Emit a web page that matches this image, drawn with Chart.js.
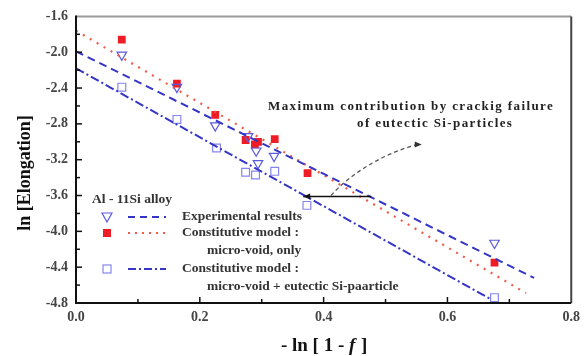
<!DOCTYPE html>
<html>
<head>
<meta charset="utf-8">
<script src="https://cdn.jsdelivr.net/npm/chart.js@4.4.1/dist/chart.umd.min.js"></script>
<style>
  html, body { margin: 0; padding: 0; background: #fff; }
  #wrap { width: 586px; height: 356px; }
</style>
</head>
<body>
<div id="wrap"><canvas id="grafica" width="586" height="356"></canvas></div>
<script>
// Datos
const expX = [0.074, 0.163, 0.225, 0.278, 0.291, 0.294, 0.320, 0.676];
const expY = [-2.03, -2.39, -2.82, -2.94, -3.10, -3.24, -3.16, -4.13];

const voidX = [0.074, 0.163, 0.225, 0.274, 0.289, 0.294, 0.321, 0.374, 0.676];
const voidY = [-1.86, -2.35, -2.70, -2.98, -3.03, -3.00, -2.97, -3.35, -4.35];

const siX = [0.074, 0.163, 0.227, 0.274, 0.290, 0.321, 0.373, 0.676];
const siY = [-2.39, -2.75, -3.07, -3.34, -3.37, -3.33, -3.71, -4.74];

// Rectas ajustadas (extremos)
const expFitX = [0.0, 0.74];
const expFitY = [-1.99, -4.52];
const voidFitX = [0.0, 0.727];
const voidFitY = [-1.76, -4.69];
const siFitX = [0.0, 0.668];
const siFitY = [-2.18, -4.75];

const xTicks = [0.0, 0.2, 0.4, 0.6, 0.8];
const yTicks = [-1.6, -2.0, -2.4, -2.8, -3.2, -3.6, -4.0, -4.4, -4.8];

const legendTitle = "Al - 11Si alloy";
const legendLabels = [
    ["Experimental results"],
    ["Constitutive model :", "micro-void, only"],
    ["Constitutive model :", "micro-void + eutectic Si-paarticle"],
];
const notaLineas = ["Maximum contribution by crackig failure", "of eutectic Si-particles"];
// flecha horizontal y flecha curva (coordenadas de datos)
const flechaX = [0.367, 0.477];
const flechaY = -3.61;
const curvaX = [0.412, 0.437, 0.490, 0.552];
const curvaY = [-3.60, -3.40, -3.14, -3.03];

const AZUL = "#3535c8";
const ROJO = "#ee1c25";
const ROJO_PUNTOS = "#f05a46";
const TRI = "#5a5ae0";
const CUAD = "#8585ee";
const SERIF = "'Liberation Serif', 'DejaVu Serif', serif";

const pares = (xs, ys) => xs.map((x, i) => ({ x, y: ys[i] }));

function linea(xs, ys, color, dash, width) {
    return {
        data: pares(xs, ys),
        showLine: true,
        borderColor: color,
        borderWidth: width,
        borderDash: dash,
        pointRadius: 0,
        fill: false,
    };
}

// Dibuja un marcador a mano (leyenda)
function marcador(ctx, tipo, x, y) {
    ctx.save();
    ctx.lineWidth = 1.2;
    if (tipo === "tri") {
        ctx.strokeStyle = TRI;
        ctx.beginPath();
        ctx.moveTo(x - 5, y - 4);
        ctx.lineTo(x + 5, y - 4);
        ctx.lineTo(x, y + 5);
        ctx.closePath();
        ctx.stroke();
    } else if (tipo === "red") {
        ctx.fillStyle = ROJO;
        ctx.fillRect(x - 4, y - 4, 8, 8);
    } else {
        ctx.strokeStyle = CUAD;
        ctx.strokeRect(x - 4, y - 4, 8, 8);
    }
    ctx.restore();
}

const extras = {
    id: "extras",
    afterDraw(chart) {
        const ctx = chart.ctx;
        const a = chart.chartArea;
        const xs = chart.scales.x, ys = chart.scales.y;

        // marco
        ctx.save();
        ctx.lineWidth = 2;
        ctx.strokeStyle = "#999";
        ctx.beginPath();
        ctx.moveTo(a.left, a.top); ctx.lineTo(a.right, a.top);
        ctx.stroke();
        ctx.strokeStyle = "#444";
        ctx.beginPath();
        ctx.moveTo(a.right, a.top); ctx.lineTo(a.right, a.bottom);
        ctx.stroke();
        ctx.strokeStyle = "#111";
        ctx.beginPath();
        ctx.moveTo(a.left, a.top - 1); ctx.lineTo(a.left, a.bottom); ctx.lineTo(a.right, a.bottom);
        ctx.stroke();

        // marcas hacia adentro
        ctx.lineWidth = 1.5;
        for (let i = 1; i < 8; i++) {
            const px = xs.getPixelForValue(i * 0.1);
            const len = i % 2 === 0 ? 6 : 4;
            ctx.beginPath();
            ctx.moveTo(px, a.bottom); ctx.lineTo(px, a.bottom - len);
            ctx.stroke();
        }
        for (let i = 1; i < 16; i++) {
            const py = ys.getPixelForValue(-1.6 - i * 0.2);
            const len = i % 2 === 0 ? 6 : 4;
            ctx.beginPath();
            ctx.moveTo(a.left, py); ctx.lineTo(a.left + len, py);
            ctx.stroke();
        }
        ctx.restore();

        // titulos de ejes
        ctx.save();
        ctx.fillStyle = "#111";
        ctx.font = "bold 18px " + SERIF;
        ctx.translate(25, 173);
        ctx.rotate(-Math.PI / 2);
        ctx.textAlign = "center";
        ctx.textBaseline = "middle";
        ctx.fillText("ln [Elongation]", 0, 0);
        ctx.restore();

        ctx.save();
        ctx.fillStyle = "#111";
        ctx.textBaseline = "middle";
        const t1 = "- ln [ 1 - ", t2 = "f", t3 = " ]";
        ctx.font = "bold 19px " + SERIF;
        const w1 = ctx.measureText(t1).width, w3 = ctx.measureText(t3).width;
        ctx.font = "italic bold 19px " + SERIF;
        const w2 = ctx.measureText(t2).width;
        let x0 = (a.left + a.right) / 2 - (w1 + w2 + w3) / 2;
        const yT = 346;
        ctx.font = "bold 19px " + SERIF;
        ctx.fillText(t1, x0, yT);
        ctx.font = "italic bold 19px " + SERIF;
        ctx.fillText(t2, x0 + w1, yT);
        ctx.font = "bold 19px " + SERIF;
        ctx.fillText(t3, x0 + w1 + w2 + 1, yT);
        ctx.restore();

        // leyenda
        ctx.save();
        ctx.fillStyle = "#333";
        ctx.font = "bold 13.5px " + SERIF;
        ctx.textBaseline = "middle";
        ctx.fillText(legendTitle, 92, 200);
        const filas = [217, 233, 269];
        const tipos = ["tri", "red", "sq"];
        const estilos = [[AZUL, [7, 5], 2], [ROJO_PUNTOS, [2, 5], 2], [AZUL, [8, 3, 2, 3], 2]];
        legendLabels.forEach((lab, i) => {
            const y = filas[i];
            marcador(ctx, tipos[i], 107, y);
            ctx.save();
            ctx.strokeStyle = estilos[i][0];
            ctx.setLineDash(estilos[i][1]);
            ctx.lineWidth = estilos[i][2];
            ctx.beginPath();
            ctx.moveTo(128, y); ctx.lineTo(166, y);
            ctx.stroke();
            ctx.restore();
            ctx.fillText(lab[0], 182, y);
            if (lab[1]) ctx.fillText(lab[1], 207, y + 18);
        });
        ctx.restore();

        // nota
        ctx.save();
        ctx.fillStyle = "#222";
        ctx.font = "bold 13px " + SERIF;
        ctx.letterSpacing = "1.4px";
        ctx.textBaseline = "middle";
        ctx.fillText(notaLineas[0], 268, 107);
        ctx.fillText(notaLineas[1], 357, 124);
        ctx.restore();

        // flecha horizontal negra
        ctx.save();
        const fy = ys.getPixelForValue(flechaY);
        const fx0 = xs.getPixelForValue(flechaX[0]), fx1 = xs.getPixelForValue(flechaX[1]);
        ctx.strokeStyle = "#111";
        ctx.fillStyle = "#111";
        ctx.lineWidth = 1.5;
        ctx.beginPath();
        ctx.moveTo(fx0, fy); ctx.lineTo(fx1, fy);
        ctx.stroke();
        ctx.beginPath();
        ctx.moveTo(fx0, fy); ctx.lineTo(fx0 + 7, fy - 3); ctx.lineTo(fx0 + 7, fy + 3);
        ctx.closePath();
        ctx.fill();

        // flecha curva discontinua
        const cp = curvaX.map((x, i) => [xs.getPixelForValue(x), ys.getPixelForValue(curvaY[i])]);
        ctx.strokeStyle = "#555";
        ctx.fillStyle = "#333";
        ctx.lineWidth = 1.3;
        ctx.setLineDash([4, 3]);
        ctx.beginPath();
        ctx.moveTo(cp[0][0], cp[0][1]);
        ctx.bezierCurveTo(cp[1][0], cp[1][1], cp[2][0], cp[2][1], cp[3][0], cp[3][1]);
        ctx.stroke();
        ctx.setLineDash([]);
        const ex = cp[3][0], ey = cp[3][1];
        ctx.beginPath();
        ctx.moveTo(ex + 4, ey); ctx.lineTo(ex - 3, ey - 3); ctx.lineTo(ex - 3, ey + 3);
        ctx.closePath();
        ctx.fill();
        ctx.restore();
    }
};

new Chart(document.getElementById("grafica"), {
    type: "scatter",
    data: {
        datasets: [
            linea(expFitX, expFitY, AZUL, [8, 5], 2),
            linea(voidFitX, voidFitY, ROJO_PUNTOS, [2, 6], 2.2),
            linea(siFitX, siFitY, AZUL, [9, 3, 2, 3], 2),
            {
                data: pares(expX, expY),
                pointStyle: "triangle",
                rotation: 180,
                pointRadius: 5.5,
                borderColor: TRI,
                backgroundColor: "rgba(0,0,0,0)",
                borderWidth: 1.2,
            },
            {
                data: pares(voidX, voidY),
                pointStyle: "rect",
                pointRadius: 5.5,
                borderColor: ROJO,
                backgroundColor: ROJO,
                borderWidth: 0,
            },
            {
                data: pares(siX, siY),
                pointStyle: "rect",
                pointRadius: 5.5,
                borderColor: CUAD,
                backgroundColor: "rgba(0,0,0,0)",
                borderWidth: 1.2,
            },
        ],
    },
    options: {
        responsive: false,
        animation: false,
        layout: { padding: { left: 0, right: 14, top: 16, bottom: 0 } },
        plugins: { legend: { display: false }, tooltip: { enabled: false } },
        scales: {
            x: {
                type: "linear",
                min: 0, max: 0.8,
                afterBuildTicks: s => { s.ticks = xTicks.map(v => ({ value: v })); },
                afterFit: s => { s.height = 53; },
                grid: { display: false, drawTicks: false },
                border: { display: false },
                ticks: {
                    padding: 6,
                    color: "#444",
                    font: { family: SERIF, size: 14, weight: "bold" },
                    callback: v => v.toFixed(1),
                },
            },
            y: {
                type: "linear",
                min: -4.8, max: -1.6,
                afterBuildTicks: s => { s.ticks = yTicks.map(v => ({ value: v })); },
                afterFit: s => { s.width = 76; },
                grid: { display: false, drawTicks: false },
                border: { display: false },
                ticks: {
                    padding: 8,
                    color: "#444",
                    font: { family: SERIF, size: 14, weight: "bold" },
                    callback: v => v.toFixed(1),
                },
            },
        },
    },
    plugins: [extras],
});
</script>
</body>
</html>
